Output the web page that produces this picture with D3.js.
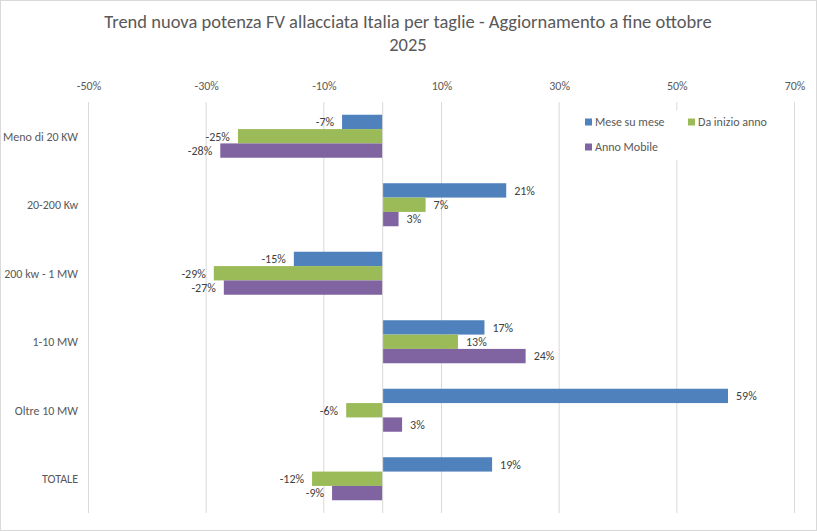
<!DOCTYPE html>
<html>
<head>
<meta charset="utf-8">
<script src="https://cdn.jsdelivr.net/npm/d3@7"></script>
<style>
  html, body { margin: 0; padding: 0; background: #fff; }
  svg { display: block; }
  text { font-family: Calibri, Carlito, Lato, "Open Sans", sans-serif; }
</style>
</head>
<body>
<svg id="chart" width="817" height="531"></svg>
<script>
const titleLines = ["Trend nuova potenza FV allacciata Italia per taglie - Aggiornamento a fine ottobre", "2025"];
const categories = ["Meno di 20 KW", "20-200 Kw", "200 kw - 1 MW", "1-10 MW", "Oltre 10 MW", "TOTALE"];
const seriesNames = ["Mese su mese", "Da inizio anno", "Anno Mobile"];
const meseSuMese   = [-6.9, 21.0, -15.1, 17.3, 58.7, 18.6];
const daInizioAnno = [-24.6, 7.3, -28.7, 12.8, -6.2, -12.0];
const annoMobile   = [-27.6, 2.7, -27.0, 24.3, 3.3, -8.6];
const xTicks = [-50, -30, -10, 10, 30, 50, 70];
const xDomain = [-50, 70];
const colors = ["#4F81BD", "#9BBB59", "#8064A2"];

const seriesValues = [meseSuMese, daInizioAnno, annoMobile];
const svg = d3.select("#chart");
const W = 817, H = 531;
const plot = { left: 88.5, right: 794.5, top: 102, bottom: 513 };

// border
svg.append("rect").attr("x", 0.5).attr("y", 0.5).attr("width", W - 1).attr("height", H - 1)
  .attr("fill", "#fff").attr("stroke", "#d9d9d9");

// title
svg.append("g").selectAll("text").data(titleLines).join("text")
  .attr("x", 408).attr("y", (d, i) => 28 + i * 23)
  .attr("text-anchor", "middle").attr("fill", "#595959")
  .attr("font-size", 18.5).text(d => d);

const x = d3.scaleLinear().domain(xDomain).range([plot.left, plot.right]);
const y = d3.scaleBand().domain(categories).range([plot.top, plot.bottom])
  .paddingInner(0.372).paddingOuter(0.186);
const ySub = d3.scaleBand().domain(d3.range(seriesNames.length)).range([0, y.bandwidth()]);

// gridlines
svg.append("g").selectAll("line").data(xTicks).join("line")
  .attr("x1", d => x(d)).attr("x2", d => x(d))
  .attr("y1", plot.top).attr("y2", plot.bottom)
  .attr("stroke", "#d9d9d9").attr("stroke-width", 1);

// top axis labels
const xAxis = d3.axisTop(x).tickValues(xTicks).tickSize(0).tickPadding(0)
  .tickFormat(d => d + "%");
const gx = svg.append("g").attr("transform", `translate(0,${plot.top - 12})`).call(xAxis);
gx.select(".domain").remove();
gx.selectAll("text").attr("fill", "#595959").attr("font-size", 12)
  .style("font-family", 'Calibri, Carlito, Lato, "Open Sans", sans-serif');

// legend background (white) sits on top of gridlines
const legend = svg.append("g");
legend.append("rect").attr("x", 580).attr("y", 110).attr("width", 192).attr("height", 50).attr("fill", "#fff");

// bars
const groups = svg.append("g").selectAll("g").data(categories).join("g")
  .attr("transform", c => `translate(0,${y(c)})`);
seriesValues.forEach((vals, si) => {
  groups.append("rect")
    .attr("x", (c, i) => Math.min(x(0), x(vals[i])))
    .attr("y", ySub(si))
    .attr("width", (c, i) => Math.abs(x(vals[i]) - x(0)))
    .attr("height", ySub.bandwidth())
    .attr("fill", colors[si]);
  groups.append("text")
    .attr("x", (c, i) => vals[i] >= 0 ? x(vals[i]) + 8 : x(vals[i]) - 8)
    .attr("y", ySub(si) + ySub.bandwidth() / 2)
    .attr("dy", "0.36em")
    .attr("text-anchor", (c, i) => vals[i] >= 0 ? "start" : "end")
    .attr("fill", "#404040").attr("font-size", 12)
    .text((c, i) => Math.round(vals[i]) + "%");
});

// zero (category axis) line
svg.append("line").attr("x1", x(0)).attr("x2", x(0))
  .attr("y1", plot.top).attr("y2", plot.bottom)
  .attr("stroke", "#d9d9d9").attr("stroke-width", 1);

// category labels
svg.append("g").selectAll("text").data(categories).join("text")
  .attr("x", 78).attr("y", c => y(c) + y.bandwidth() / 2).attr("dy", "0.36em")
  .attr("text-anchor", "end").attr("fill", "#595959").attr("font-size", 12)
  .text(c => c);

// legend items
const legendPos = [[585, 122], [688, 122], [585, 147]];
seriesNames.forEach((n, i) => {
  const [lx, ly] = legendPos[i];
  legend.append("rect").attr("x", lx).attr("y", ly - 3.5).attr("width", 7).attr("height", 7).attr("fill", colors[i]);
  legend.append("text").attr("x", lx + 10).attr("y", ly).attr("dy", "0.36em")
    .attr("fill", "#595959").attr("font-size", 12).text(n);
});
</script>
</body>
</html>
